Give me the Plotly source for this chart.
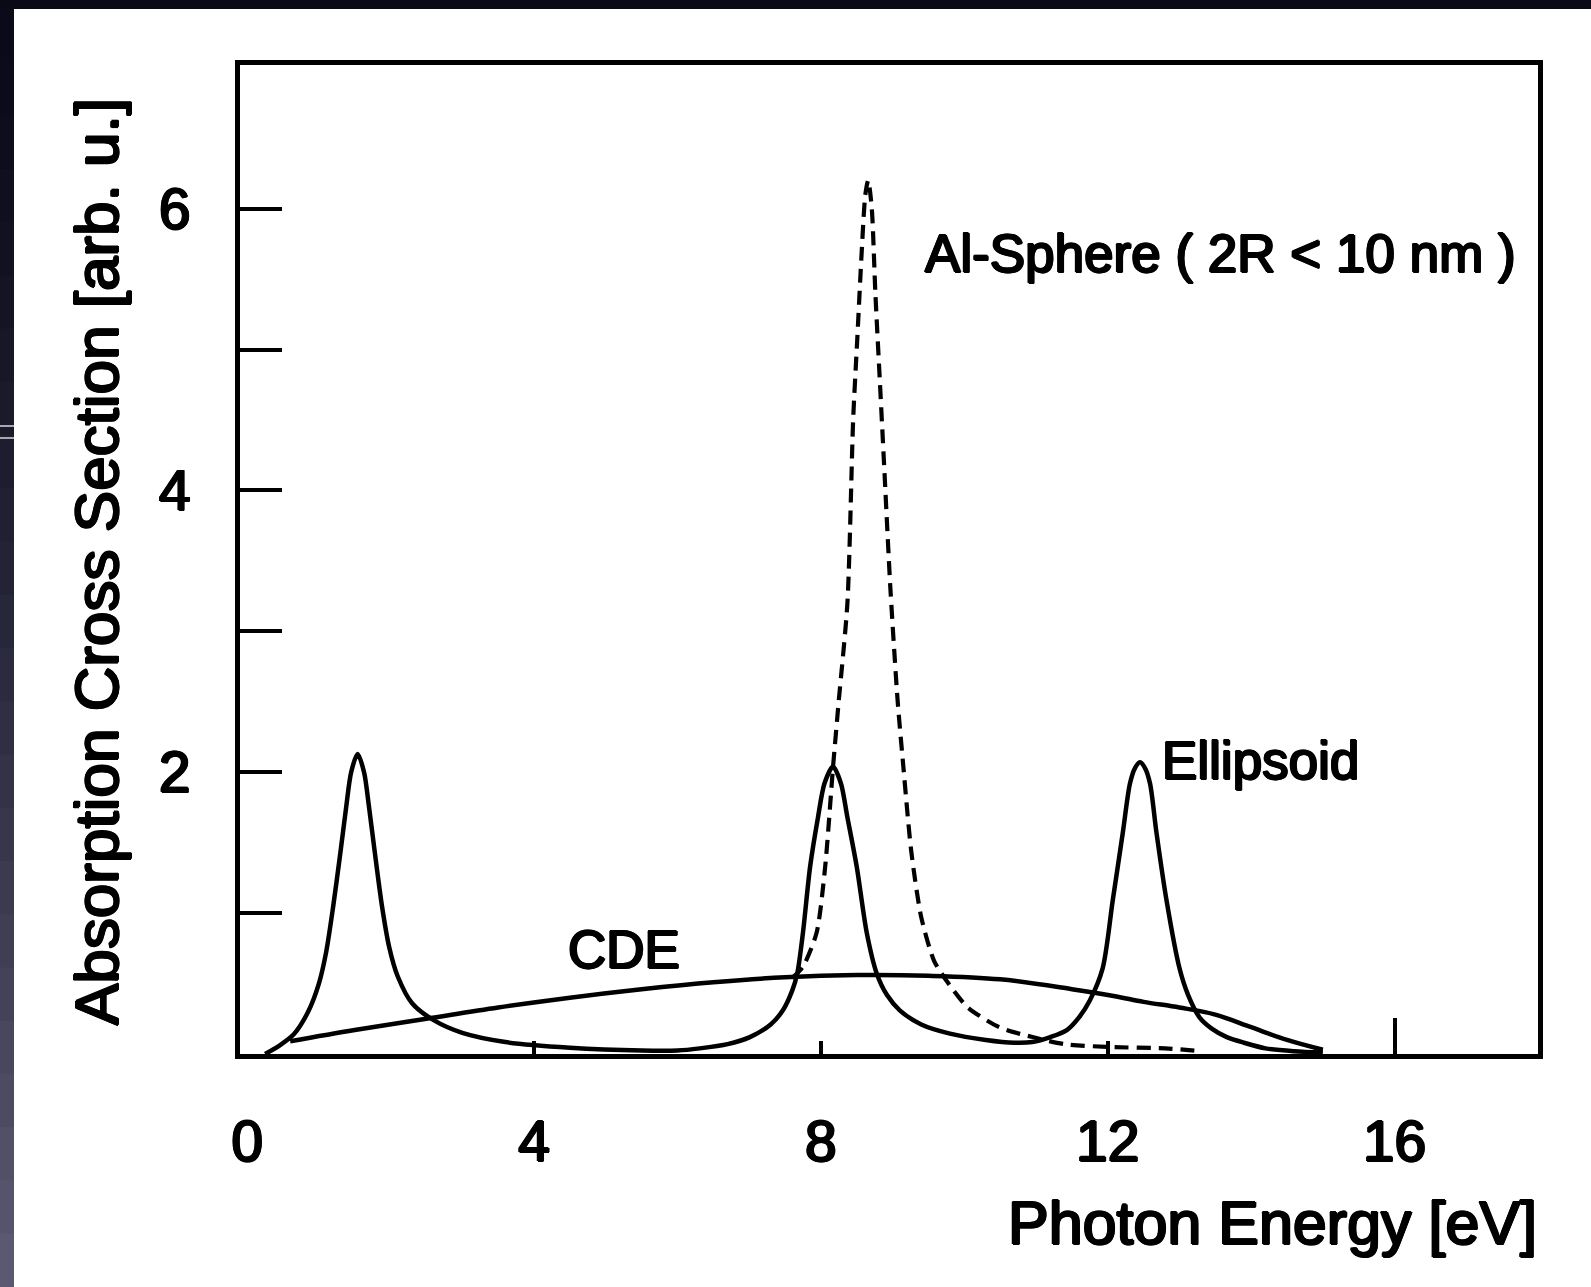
import plotly.graph_objects as go

# ---------------- data ----------------
ellipsoid_x = [0.25, 0.45, 0.65, 0.85, 1.0, 1.1, 1.2, 1.3, 1.38, 1.45, 1.54, 1.63, 1.7, 1.78, 1.88,
               1.98, 2.1, 2.3, 2.6, 3.0, 3.6, 4.5, 5.5, 6.0,
               6.31, 6.7, 7.01, 7.3, 7.47, 7.6, 7.67, 7.75, 7.85, 7.96, 8.05, 8.17, 8.28, 8.37, 8.5,
               8.64, 8.78, 8.92, 9.1, 9.4, 9.8, 10.3, 10.7, 10.95,
               11.2, 11.43, 11.6, 11.75, 11.93, 12.07, 12.21, 12.31, 12.38, 12.45, 12.52, 12.59, 12.68,
               12.82, 13.0, 13.12, 13.28, 13.45, 13.66, 13.9, 14.2, 14.6, 15.0]
ellipsoid_y = [0.0, 0.06, 0.14, 0.3, 0.5, 0.72, 1.05, 1.43, 1.75, 2.0, 2.13, 2.0, 1.75, 1.43, 1.05,
               0.76, 0.55, 0.36, 0.24, 0.15, 0.085, 0.045, 0.025, 0.025,
               0.04, 0.07, 0.12, 0.21, 0.31, 0.45, 0.57, 0.86, 1.33, 1.68, 1.92, 2.04, 1.92, 1.68, 1.33,
               0.86, 0.57, 0.42, 0.31, 0.21, 0.145, 0.1, 0.08, 0.085,
               0.12, 0.17, 0.26, 0.38, 0.61, 1.09, 1.57, 1.92, 2.03, 2.07, 2.03, 1.92, 1.57,
               1.09, 0.61, 0.42, 0.26, 0.18, 0.12, 0.08, 0.04, 0.02, 0.01]

cde_x = [0.6, 1.5, 2.5, 3.5, 4.5, 5.5, 6.5, 7.5, 8.5, 9.5, 10.5, 11.5, 12.1, 12.5, 13.0, 13.5,
         14.0, 14.5, 15.0]
cde_y = [0.09, 0.17, 0.25, 0.33, 0.40, 0.46, 0.51, 0.545, 0.56, 0.555, 0.53, 0.46, 0.41, 0.37,
         0.33, 0.28, 0.19, 0.1, 0.03]

sphere_x = [7.6, 7.75, 7.94, 8.06, 8.17, 8.25, 8.37, 8.45, 8.51, 8.57, 8.62, 8.66, 8.71, 8.76, 8.82,
            8.88, 8.97, 9.07, 9.15, 9.26, 9.4, 9.58, 9.78, 10.05, 10.49, 10.95, 11.4, 12.0, 12.8, 13.3]
sphere_y = [0.54, 0.62, 0.86, 1.33, 2.04, 2.51, 3.2, 4.5, 5.1, 5.7, 6.1, 6.2, 6.0, 5.4, 4.8,
            4.2, 3.3, 2.51, 2.04, 1.44, 0.97, 0.66, 0.5, 0.33, 0.19, 0.12, 0.07, 0.05, 0.04, 0.02]

x_tickvals = [0, 4, 8, 12, 16]
x_ticktext = ["0", "4", "8", "12", "16"]
x_short_ticks = [4, 8, 12]
x_long_ticks = [16]
y_tickvals = [1, 2, 3, 4, 5, 6]
y_ticktext = ["", "2", "", "4", "", "6"]

label_sphere = "Al-Sphere ( 2R < 10 nm )"
label_ellipsoid = "Ellipsoid"
label_cde = "CDE"
x_title = "Photon Energy [eV]"
y_title = "Absorption Cross Section [arb. u.]"

# ---------------- layout geometry ----------------
W, H = 1591, 1287
L, R, T, B = 240, 1538, 65, 1054   # plot frame in pixels

def px(X):
    return (X - L) / (R - L)

def py(Y):
    return (B - Y) / (B - T)

FONT = "Liberation Sans, Arial, Helvetica, sans-serif"
SHADOW = ("1.2px 0 0 #000, -1.2px 0 0 #000, 0 0.9px 0 #000, 0 -0.9px 0 #000, "
          "0.8px 0.8px 0 #000, -0.8px -0.8px 0 #000")

fig = go.Figure()

fig.add_trace(go.Scatter(x=cde_x, y=cde_y, mode="lines",
                         line=dict(color="black", width=4.5, shape="spline", smoothing=1.0),
                         hoverinfo="skip", showlegend=False))
fig.add_trace(go.Scatter(x=ellipsoid_x, y=ellipsoid_y, mode="lines",
                         line=dict(color="black", width=4.5, shape="spline", smoothing=0.8),
                         hoverinfo="skip", showlegend=False))
fig.add_trace(go.Scatter(x=sphere_x, y=sphere_y, mode="lines",
                         line=dict(color="black", width=4.2, dash="14px,8px", shape="spline", smoothing=0.7),
                         hoverinfo="skip", showlegend=False))
# invisible anchors for the two tick-only overlay axes
fig.add_trace(go.Scatter(x=[16], y=[0], xaxis="x2", mode="markers", marker=dict(opacity=0),
                         hoverinfo="skip", showlegend=False))
fig.add_trace(go.Scatter(x=[16], y=[0], xaxis="x3", mode="markers", marker=dict(opacity=0),
                         hoverinfo="skip", showlegend=False))

# ---------------- background (dark slide edges) ----------------
shapes = []
shapes.append(dict(type="rect", xref="paper", yref="paper", layer="below",
                   x0=px(14), x1=px(W + 5), y0=py(H + 5), y1=py(9),
                   fillcolor="white", line=dict(width=0)))
top_c = (10, 10, 26)
bot_c = (94, 92, 116)
n = 24
for i in range(n):
    y0 = 9 + (H - 9) * i / n
    y1 = 9 + (H - 9) * (i + 1) / n
    t = ((i + 0.5) / n) ** 1.4
    c = tuple(int(top_c[k] + (bot_c[k] - top_c[k]) * t) for k in range(3))
    shapes.append(dict(type="rect", xref="paper", yref="paper", layer="below",
                       x0=px(-5), x1=px(14), y0=py(y1 + 1), y1=py(y0),
                       fillcolor="rgb(%d,%d,%d)" % c, line=dict(width=0)))
for yy in (426, 438):
    shapes.append(dict(type="line", xref="paper", yref="paper", layer="below",
                       x0=px(0), x1=px(14), y0=py(yy), y1=py(yy),
                       line=dict(color="rgba(235,235,240,0.9)", width=1.5)))

annotations = [
    dict(text=label_sphere, x=9.42, y=5.68, xref="x", yref="y", xanchor="left", yanchor="middle",
         showarrow=False, font=dict(size=53, color="black", family=FONT, shadow=SHADOW)),
    dict(text=label_ellipsoid, x=12.73, y=2.08, xref="x", yref="y", xanchor="left", yanchor="middle",
         showarrow=False, font=dict(size=53, color="black", family=FONT, shadow=SHADOW)),
    dict(text=label_cde, x=4.45, y=0.74, xref="x", yref="y", xanchor="left", yanchor="middle",
         showarrow=False, font=dict(size=53, color="black", family=FONT, shadow=SHADOW)),
    dict(text=x_title, x=px(1539), y=py(1223), xref="paper", yref="paper", xanchor="right",
         yanchor="middle", showarrow=False,
         font=dict(size=61, color="black", family=FONT, shadow=SHADOW)),
    dict(text=y_title, x=px(96), y=py(562), xref="paper", yref="paper", xanchor="center",
         yanchor="middle", textangle=-90, showarrow=False,
         font=dict(size=62, color="black", family=FONT, shadow=SHADOW)),
]

fig.update_layout(
    width=W, height=H,
    margin=dict(l=L, r=W - R, t=T, b=H - B, pad=0),
    paper_bgcolor="rgb(10,10,22)",
    plot_bgcolor="white",
    shapes=shapes,
    annotations=annotations,
    font=dict(family=FONT, color="black"),
    xaxis=dict(range=[-0.1, 18], showgrid=False, zeroline=False,
               showline=True, mirror=True, linecolor="black", linewidth=5,
               tickmode="array", tickvals=x_tickvals, ticktext=x_ticktext,
               ticks="", ticklabelstandoff=34,
               tickfont=dict(size=57, color="black", family=FONT, shadow=SHADOW)),
    xaxis2=dict(range=[-0.1, 18], overlaying="x", side="bottom", anchor="y",
                showgrid=False, zeroline=False, showline=False,
                tickmode="array", tickvals=x_short_ticks, showticklabels=False,
                ticks="inside", ticklen=13, tickwidth=4, tickcolor="black"),
    xaxis3=dict(range=[-0.1, 18], overlaying="x", side="bottom", anchor="y",
                showgrid=False, zeroline=False, showline=False,
                tickmode="array", tickvals=x_long_ticks, showticklabels=False,
                ticks="inside", ticklen=36, tickwidth=4, tickcolor="black"),
    yaxis=dict(range=[0, 7.02], showgrid=False, zeroline=False,
               showline=True, mirror=True, linecolor="black", linewidth=5,
               tickmode="array", tickvals=y_tickvals, ticktext=y_ticktext,
               ticks="inside", ticklen=42, tickwidth=4, tickcolor="black",
               ticklabelstandoff=33,
               tickfont=dict(size=57, color="black", family=FONT, shadow=SHADOW)),
)

fig.write_html("out.html")
